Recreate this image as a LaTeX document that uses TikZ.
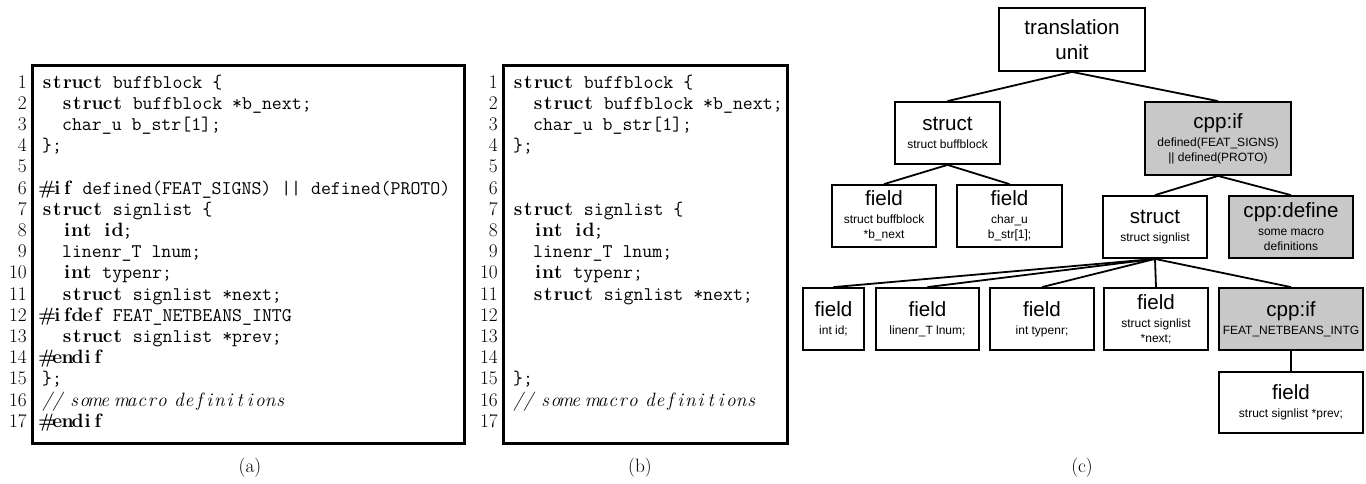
\documentclass[tikz,border=0pt]{standalone}
\usepackage{fontspec}
\newfontfamily\arial{Liberation Sans}
\definecolor{boxgray}{RGB}{200,200,200}

% fixed-column code layout: every character sits in a cell of typewriter width
\newlength\cw
\setlength\cw{10.13pt}
\newcommand\codefont{\fontsize{19.3}{21.2}\selectfont}
\def\cells#1{\cellsA#1\relax}
\def\cellsA#1{\ifx#1\relax\else\makebox[\cw]{#1}\expandafter\cellsA\fi}
\newcommand\kw[1]{{\rmfamily\bfseries\cells{#1}}}
\newcommand\cmt{{\rmfamily\itshape\cells{//}\ \cells{some}\ \cells{macro}\ \cells{definitions}}}
\newcommand\lbl[1]{{\fontsize{20.6}{24}\selectfont #1}}

\begin{document}
\begin{tikzpicture}[x=1pt,y=-1pt,
  code/.style={anchor=base west,inner sep=0pt,font=\ttfamily\codefont},
  num/.style={anchor=base east,inner sep=0pt,font=\rmfamily\codefont},
  panel/.style={draw,line width=3pt,inner sep=0pt},
  tbox/.style={draw,line width=1.8pt,inner sep=0pt,align=center,
    font=\arial\fontsize{12}{15}\selectfont},
  gbox/.style={tbox,fill=boxgray},
  conn/.style={line width=1.8pt},
  captxt/.style={anchor=base,inner sep=0pt,font=\rmfamily\fontsize{19.3}{22}\selectfont}]
\useasboundingbox (0,0) rectangle (1366,483);

% ---------------- panel (a): original source ----------------
\node[panel,minimum width=432pt,minimum height=378pt] (pa) at (248,254) {};
\foreach \i in {1,...,17}
  \node[num] (an\i) at ({27},{88+(\i-1)*21.2}) {\i};
\node[code] (a1)  at (42,88.0)  {\kw{struct} buffblock \{};
\node[code] (a2)  at (42,109.2) {\ \ \kw{struct} buffblock *b\_next;};
\node[code] (a3)  at (42,130.4) {\ \ char\_u b\_str[1];};
\node[code] (a4)  at (42,151.6) {\};};
\node[code] (a6)  at (42,194.0) {\kw{\#if} defined(FEAT\_SIGNS) || defined(PROTO)};
\node[code] (a7)  at (42,215.2) {\kw{struct} signlist \{};
\node[code] (a8)  at (42,236.4) {\ \ \kw{int} \kw{id};};
\node[code] (a9)  at (42,257.6) {\ \ linenr\_T lnum;};
\node[code] (a10) at (42,278.8) {\ \ \kw{int} typenr;};
\node[code] (a11) at (42,300.0) {\ \ \kw{struct} signlist *next;};
\node[code] (a12) at (42,321.2) {\kw{\#ifdef} FEAT\_NETBEANS\_INTG};
\node[code] (a13) at (42,342.4) {\ \ \kw{struct} signlist *prev;};
\node[code] (a14) at (42,363.6) {\kw{\#endif}};
\node[code] (a15) at (42,384.8) {\};};
\node[code] (a16) at (42,406.0) {\cmt};
\node[code] (a17) at (42,427.2) {\kw{\#endif}};
\node[captxt] (capa) at (250,472) {(a)};

% ---------------- panel (b): one configuration ----------------
\node[panel,minimum width=284pt,minimum height=378pt] (pb) at (645,254) {};
\foreach \i in {1,...,17}
  \node[num] (bn\i) at ({498},{88+(\i-1)*21.2}) {\i};
\node[code] (b1)  at (513,88.0)  {\kw{struct} buffblock \{};
\node[code] (b2)  at (513,109.2) {\ \ \kw{struct} buffblock *b\_next;};
\node[code] (b3)  at (513,130.4) {\ \ char\_u b\_str[1];};
\node[code] (b4)  at (513,151.6) {\};};
\node[code] (b7)  at (513,215.2) {\kw{struct} signlist \{};
\node[code] (b8)  at (513,236.4) {\ \ \kw{int} \kw{id};};
\node[code] (b9)  at (513,257.6) {\ \ linenr\_T lnum;};
\node[code] (b10) at (513,278.8) {\ \ \kw{int} typenr;};
\node[code] (b11) at (513,300.0) {\ \ \kw{struct} signlist *next;};
\node[code] (b15) at (513,384.8) {\};};
\node[code] (b16) at (513,406.0) {\cmt};
\node[captxt] (capb) at (640,472) {(b)};

% ---------------- panel (c): variability-aware AST ----------------
\node[tbox,minimum width=146pt,minimum height=63pt,
      font=\arial\fontsize{20.6}{25}\selectfont] (tu) at (1072,39.5) {translation\\unit};
\node[tbox,minimum width=105pt,minimum height=62pt] (sb) at (947.5,133)
  {\lbl{struct}\\[3pt]struct buffblock};
\node[gbox,minimum width=146pt,minimum height=73pt] (cif) at (1218,138.5)
  {\lbl{cpp:if}\\[3pt]defined(FEAT\_SIGNS)\\{||} defined(PROTO)};
\node[tbox,minimum width=104pt,minimum height=62pt] (f1) at (884,216)
  {\lbl{field}\\[3pt]struct buffblock\\{*}b\_next};
\node[tbox,minimum width=105pt,minimum height=62pt] (f2) at (1009.5,216)
  {\lbl{field}\\[3pt]char\_u\\b\_str[1];};
\node[tbox,minimum width=104pt,minimum height=62pt] (ss) at (1155,227)
  {\lbl{struct}\\[3pt]struct signlist};
\node[gbox,minimum width=124pt,minimum height=62pt] (cdef) at (1291,227)
  {\lbl{cpp:define}\\[3pt]some macro\\definitions};
\node[tbox,minimum width=61pt,minimum height=62pt] (g1) at (833.5,319)
  {\lbl{field}\\[3pt]int id;};
\node[tbox,minimum width=103pt,minimum height=62pt] (g2) at (927.5,319)
  {\lbl{field}\\[3pt]linenr\_T lnum;};
\node[tbox,minimum width=104pt,minimum height=62pt] (g3) at (1042,319)
  {\lbl{field}\\[3pt]int typenr;};
\node[tbox,minimum width=104pt,minimum height=62pt] (g4) at (1156,319)
  {\lbl{field}\\[3pt]struct signlist\\{*}next;};
\node[gbox,minimum width=144pt,minimum height=62pt] (cif2) at (1291,319)
  {\lbl{cpp:if}\\[3pt]FEAT\_NETBEANS\_INTG};
\node[tbox,minimum width=144pt,minimum height=61pt] (g5) at (1291,402.5)
  {\lbl{field}\\[3pt]struct signlist *prev;};

\draw[conn] (tu.south) -- (sb.north);
\draw[conn] (tu.south) -- (cif.north);
\draw[conn] (sb.south) -- (f1.north);
\draw[conn] (sb.south) -- (f2.north);
\draw[conn] (cif.south) -- (ss.north);
\draw[conn] (cif.south) -- (cdef.north);
\foreach \c in {g1,g2,g3,g4,cif2}
  \draw[conn] (ss.south) -- (\c.north);
\draw[conn] (cif2.south) -- (g5.north);
\node[captxt] (capc) at (1082,472) {(c)};
\end{tikzpicture}
\end{document}
